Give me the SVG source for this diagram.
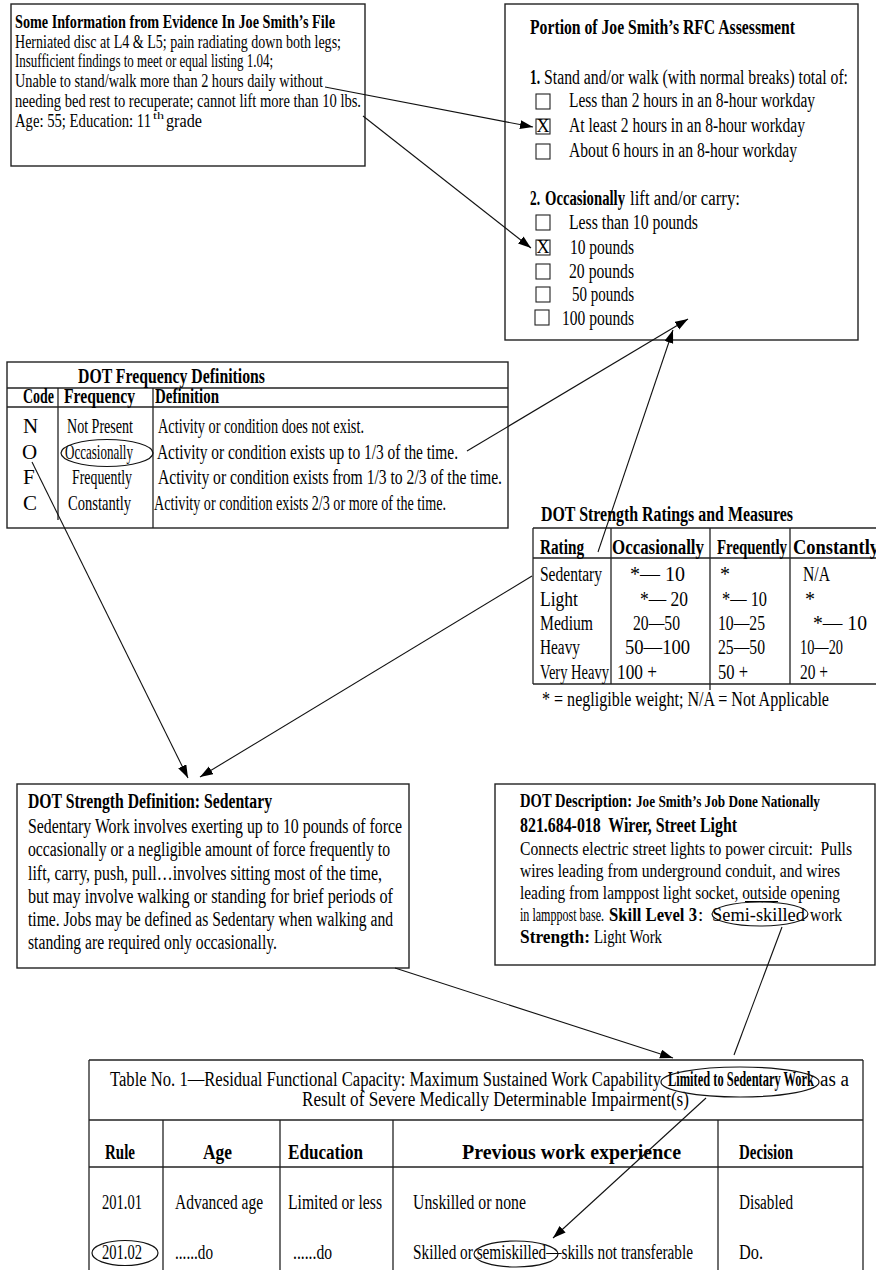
<svg xmlns="http://www.w3.org/2000/svg" width="876" height="1270" viewBox="0 0 876 1270">
<style>
text{font-family:"Liberation Serif","Times New Roman",serif;fill:#000}
.b{font-weight:bold}
.pre{white-space:pre}
.f18{font-size:18.5px}.f19{font-size:19px}.f20{font-size:20px}.f21{font-size:21px}
.box{fill:#fff;stroke:#222;stroke-width:1.4}
.ln{stroke:#222;stroke-width:1.3;fill:none}
.cb{fill:#fff;stroke:#222;stroke-width:1.1}
.ov{fill:none;stroke:#111;stroke-width:1.2}
.con{stroke:#111;stroke-width:1.1;fill:none}
.arr{marker-end:url(#ah)}
</style>
<defs>
<marker id="ah" markerUnits="userSpaceOnUse" markerWidth="14" markerHeight="10" refX="13" refY="4.5" orient="auto">
<path d="M0,0 L13,4.5 L0,9 z" fill="#000"/>
</marker>
</defs>
<rect width="876" height="1270" fill="#fff"/>

<g id="n-evidence">
<rect class="box" x="11" y="4" width="354" height="162"/>
<text class="f18 b" x="15" y="28" textLength="320" lengthAdjust="spacingAndGlyphs">Some Information from Evidence In Joe Smith’s File</text>
<text class="f18" x="15" y="48" textLength="326" lengthAdjust="spacingAndGlyphs">Herniated disc at L4 &amp; L5; pain radiating down both legs;</text>
<text class="f18" x="15" y="67" textLength="258" lengthAdjust="spacingAndGlyphs">Insufficient findings to meet or equal listing 1.04;</text>
<text class="f18" x="15" y="87" textLength="308" lengthAdjust="spacingAndGlyphs">Unable to stand/walk more than 2 hours daily without</text>
<text class="f18" x="15" y="107" textLength="346" lengthAdjust="spacingAndGlyphs">needing bed rest to recuperate; cannot lift more than 10 lbs.</text>
<text class="f18" x="15" y="127" textLength="136" lengthAdjust="spacingAndGlyphs">Age: 55; Education: 11</text>
<text x="153" y="119" style="font-size:10.5px" textLength="11" lengthAdjust="spacingAndGlyphs">th</text>
<text class="f18" x="166" y="127" textLength="36" lengthAdjust="spacingAndGlyphs">grade</text>
</g>

<g id="n-rfc">
<rect class="box" x="505" y="4" width="353" height="336"/>
<text class="f20 b" x="530" y="34" textLength="265" lengthAdjust="spacingAndGlyphs">Portion of Joe Smith’s RFC Assessment</text>
<text class="f20 b" x="530" y="84" textLength="10" lengthAdjust="spacingAndGlyphs">1.</text>
<text class="f20" x="544" y="84" textLength="304" lengthAdjust="spacingAndGlyphs">Stand and/or walk (with normal breaks) total of:</text>
<rect class="cb" x="536" y="94" width="14" height="15"/>
<rect class="cb" x="536" y="119" width="14" height="15"/>
<rect class="cb" x="536" y="144" width="14" height="15"/>
<text x="543" y="132" text-anchor="middle" style="font-size:18px">X</text>
<text class="f20" x="569" y="107" textLength="246" lengthAdjust="spacingAndGlyphs">Less than 2 hours in an 8-hour workday</text>
<text class="f20" x="569" y="132" textLength="236" lengthAdjust="spacingAndGlyphs">At least 2 hours in an 8-hour workday</text>
<text class="f20" x="569" y="157" textLength="228" lengthAdjust="spacingAndGlyphs">About 6 hours in an 8-hour workday</text>
<text class="f20 b" x="530" y="205" textLength="10" lengthAdjust="spacingAndGlyphs">2.</text>
<text class="f20 b" x="545" y="205" textLength="80" lengthAdjust="spacingAndGlyphs">Occasionally</text>
<text class="f20" x="630" y="205" textLength="110" lengthAdjust="spacingAndGlyphs">lift and/or carry:</text>
<rect class="cb" x="536" y="215" width="14" height="15"/>
<rect class="cb" x="536" y="240" width="14" height="15"/>
<rect class="cb" x="536" y="264" width="14" height="15"/>
<rect class="cb" x="536" y="287" width="14" height="15"/>
<rect class="cb" x="535" y="310" width="14" height="15"/>
<text x="543" y="253" text-anchor="middle" style="font-size:18px">X</text>
<text class="f20" x="569" y="229" textLength="129" lengthAdjust="spacingAndGlyphs">Less than 10 pounds</text>
<text class="f20" x="570" y="254" textLength="64" lengthAdjust="spacingAndGlyphs">10 pounds</text>
<text class="f20" x="569" y="278" textLength="65" lengthAdjust="spacingAndGlyphs">20 pounds</text>
<text class="f20" x="572" y="301" textLength="62" lengthAdjust="spacingAndGlyphs">50 pounds</text>
<text class="f20" x="562" y="325" textLength="72" lengthAdjust="spacingAndGlyphs">100 pounds</text>
</g>

<g id="n-freq">
<rect class="box" x="7" y="362" width="501" height="166"/>
<line class="ln" x1="7" y1="388" x2="508" y2="388"/>
<line class="ln" x1="7" y1="407" x2="508" y2="407"/>
<line class="ln" x1="58" y1="388" x2="58" y2="520"/>
<line class="ln" x1="153" y1="388" x2="153" y2="528"/>
<text class="f21 b" x="78" y="383" textLength="187" lengthAdjust="spacingAndGlyphs">DOT Frequency Definitions</text>
<text class="f21 b" x="23" y="403" textLength="31" lengthAdjust="spacingAndGlyphs">Code</text>
<text class="f21 b" x="64" y="403" textLength="71" lengthAdjust="spacingAndGlyphs">Frequency</text>
<text class="f21 b" x="155" y="403" textLength="64" lengthAdjust="spacingAndGlyphs">Definition</text>
<text class="f21" x="23" y="433">N</text>
<text class="f21" x="67" y="433" textLength="66" lengthAdjust="spacingAndGlyphs">Not Present</text>
<text class="f21" x="158" y="433" textLength="206" lengthAdjust="spacingAndGlyphs">Activity or condition does not exist.</text>
<text class="f21" x="22" y="459">O</text>
<text class="f21" x="65" y="459" textLength="68" lengthAdjust="spacingAndGlyphs">Occasionally</text>
<text class="f21" x="157" y="459" textLength="301" lengthAdjust="spacingAndGlyphs">Activity or condition exists up to 1/3 of the time.</text>
<text class="f21" x="23" y="484">F</text>
<text class="f21" x="72" y="484" textLength="60" lengthAdjust="spacingAndGlyphs">Frequently</text>
<text class="f21" x="158" y="484" textLength="344" lengthAdjust="spacingAndGlyphs">Activity or condition exists from 1/3 to 2/3 of the time.</text>
<text class="f21" x="23" y="510">C</text>
<text class="f21" x="68" y="510" textLength="63" lengthAdjust="spacingAndGlyphs">Constantly</text>
<text class="f21" x="154" y="510" textLength="292" lengthAdjust="spacingAndGlyphs">Activity or condition exists 2/3 or more of the time.</text>
<ellipse class="ov" cx="107" cy="453" rx="46" ry="13.5"/>
</g>

<g id="n-strength-table">
<text class="f20 b" x="541" y="521" textLength="252" lengthAdjust="spacingAndGlyphs">DOT Strength Ratings and Measures</text>
<line class="ln" x1="533" y1="528" x2="876" y2="528"/>
<line class="ln" x1="533" y1="558" x2="876" y2="558"/>
<line class="ln" x1="533" y1="684" x2="876" y2="684"/>
<line class="ln" x1="533" y1="528" x2="533" y2="684"/>
<line class="ln" x1="611" y1="528" x2="611" y2="684"/>
<line class="ln" x1="710" y1="528" x2="710" y2="690"/>
<line class="ln" x1="790" y1="528" x2="790" y2="684"/>
<text class="f20 b" x="540" y="554" textLength="44" lengthAdjust="spacingAndGlyphs">Rating</text>
<text class="f20 b" x="612" y="554" textLength="92" lengthAdjust="spacingAndGlyphs">Occasionally</text>
<text class="f20 b" x="717" y="554" textLength="70" lengthAdjust="spacingAndGlyphs">Frequently</text>
<text class="f20 b" x="793" y="554" textLength="86" lengthAdjust="spacingAndGlyphs">Constantly</text>
<text class="f20" x="540" y="581" textLength="62" lengthAdjust="spacingAndGlyphs">Sedentary</text>
<text class="f20" x="630" y="581" textLength="55" lengthAdjust="spacingAndGlyphs">*— 10</text>
<text class="f20" x="720" y="581">*</text>
<text class="f20" x="803" y="581" textLength="27" lengthAdjust="spacingAndGlyphs">N/A</text>
<text class="f20" x="540" y="606" textLength="38" lengthAdjust="spacingAndGlyphs">Light</text>
<text class="f20" x="640" y="606" textLength="48" lengthAdjust="spacingAndGlyphs">*— 20</text>
<text class="f20" x="722" y="606" textLength="45" lengthAdjust="spacingAndGlyphs">*— 10</text>
<text class="f20" x="805" y="606">*</text>
<text class="f20" x="540" y="630" textLength="53" lengthAdjust="spacingAndGlyphs">Medium</text>
<text class="f20" x="633" y="630" textLength="47" lengthAdjust="spacingAndGlyphs">20—50</text>
<text class="f20" x="718" y="630" textLength="47" lengthAdjust="spacingAndGlyphs">10—25</text>
<text class="f20" x="813" y="630" textLength="54" lengthAdjust="spacingAndGlyphs">*— 10</text>
<text class="f20" x="540" y="654" textLength="40" lengthAdjust="spacingAndGlyphs">Heavy</text>
<text class="f20" x="625" y="654" textLength="65" lengthAdjust="spacingAndGlyphs">50—100</text>
<text class="f20" x="718" y="654" textLength="47" lengthAdjust="spacingAndGlyphs">25—50</text>
<text class="f20" x="800" y="654" textLength="43" lengthAdjust="spacingAndGlyphs">10—20</text>
<text class="f20" x="540" y="679" textLength="69" lengthAdjust="spacingAndGlyphs">Very Heavy</text>
<text class="f20" x="617" y="679" textLength="40" lengthAdjust="spacingAndGlyphs">100 +</text>
<text class="f20" x="718" y="679" textLength="30" lengthAdjust="spacingAndGlyphs">50 +</text>
<text class="f20" x="800" y="679" textLength="28" lengthAdjust="spacingAndGlyphs">20 +</text>
<text class="f20" x="542" y="706" textLength="287" lengthAdjust="spacingAndGlyphs">* = negligible weight; N/A = Not Applicable</text>
</g>

<g id="n-strength-def">
<rect class="box" x="17" y="784" width="392" height="184"/>
<text class="f20 b" x="28" y="808" textLength="244" lengthAdjust="spacingAndGlyphs">DOT Strength Definition: Sedentary</text>
<text class="f20" x="28" y="833" textLength="374" lengthAdjust="spacingAndGlyphs">Sedentary Work involves exerting up to 10 pounds of force</text>
<text class="f20" x="28" y="856" textLength="362" lengthAdjust="spacingAndGlyphs">occasionally or a negligible amount of force frequently to</text>
<text class="f20" x="28" y="880" textLength="354" lengthAdjust="spacingAndGlyphs">lift, carry, push, pull…involves sitting most of the time,</text>
<text class="f20" x="28" y="903" textLength="365" lengthAdjust="spacingAndGlyphs">but may involve walking or standing for brief periods of</text>
<text class="f20" x="28" y="926" textLength="365" lengthAdjust="spacingAndGlyphs">time. Jobs may be defined as Sedentary when walking and</text>
<text class="f20" x="28" y="949" textLength="249" lengthAdjust="spacingAndGlyphs">standing are required only occasionally.</text>
</g>

<g id="n-dot-desc">
<rect class="box" x="495" y="784" width="380" height="181"/>
<text class="b" style="font-size:18px" x="520" y="807" textLength="112" lengthAdjust="spacingAndGlyphs">DOT Description:</text>
<text class="b" style="font-size:17px" x="636" y="807" textLength="184" lengthAdjust="spacingAndGlyphs">Joe Smith’s Job Done Nationally</text>
<text class="f20 b pre" x="520" y="832" textLength="217" lengthAdjust="spacingAndGlyphs">821.684-018  Wirer, Street Light</text>
<text class="f19 pre" x="520" y="855" textLength="332" lengthAdjust="spacingAndGlyphs">Connects electric street lights to power circuit:  Pulls</text>
<text class="f19" x="520" y="877" textLength="320" lengthAdjust="spacingAndGlyphs">wires leading from underground conduit, and wires</text>
<text class="f19" x="520" y="899" textLength="320" lengthAdjust="spacingAndGlyphs">leading from lamppost light socket, outside opening</text>
<line x1="745" y1="901.5" x2="778" y2="901.5" stroke="#000" stroke-width="1"/>
<text class="f19" x="520" y="921" textLength="84" lengthAdjust="spacingAndGlyphs">in lamppost base.</text>
<text class="f19 b" x="609" y="921" textLength="88" lengthAdjust="spacingAndGlyphs">Skill Level 3</text>
<text class="f19" x="698" y="921">:</text>
<text class="f19" x="712" y="921" textLength="93" lengthAdjust="spacingAndGlyphs">Semi-skilled</text>
<text class="f19" x="810" y="921" textLength="32" lengthAdjust="spacingAndGlyphs">work</text>
<ellipse class="ov" cx="760" cy="914" rx="48" ry="12"/>
<text class="f19 b" x="520" y="943" textLength="70" lengthAdjust="spacingAndGlyphs">Strength:</text>
<text class="f19" x="594" y="943" textLength="68" lengthAdjust="spacingAndGlyphs">Light Work</text>
</g>

<g id="n-table1">
<line class="ln" x1="89" y1="1060" x2="863" y2="1060"/>
<line class="ln" x1="89" y1="1060" x2="89" y2="1270"/>
<line class="ln" x1="863" y1="1060" x2="863" y2="1270"/>
<line class="ln" x1="89" y1="1120" x2="863" y2="1120"/>
<line class="ln" x1="89" y1="1167" x2="863" y2="1167"/>
<line class="ln" x1="163" y1="1120" x2="163" y2="1270"/>
<line class="ln" x1="280" y1="1120" x2="280" y2="1270"/>
<line class="ln" x1="393" y1="1120" x2="393" y2="1270"/>
<line class="ln" x1="718" y1="1120" x2="718" y2="1270"/>
<text class="f20" x="110" y="1086" textLength="551" lengthAdjust="spacingAndGlyphs">Table No. 1—Residual Functional Capacity: Maximum Sustained Work Capability</text>
<text class="f20 b" x="668" y="1086" textLength="146" lengthAdjust="spacingAndGlyphs">Limited to Sedentary Work</text>
<text class="f20" x="820" y="1086" textLength="29" lengthAdjust="spacingAndGlyphs">as a</text>
<text class="f20" x="302" y="1106" textLength="387" lengthAdjust="spacingAndGlyphs">Result of Severe Medically Determinable Impairment(s)</text>
<ellipse class="ov" cx="740" cy="1082" rx="79" ry="15"/>
<text class="f20 b" x="105" y="1159" textLength="30" lengthAdjust="spacingAndGlyphs">Rule</text>
<text class="f20 b" x="203" y="1159" textLength="29" lengthAdjust="spacingAndGlyphs">Age</text>
<text class="f20 b" x="288" y="1159" textLength="75" lengthAdjust="spacingAndGlyphs">Education</text>
<text class="f20 b" x="462" y="1159" textLength="219" lengthAdjust="spacingAndGlyphs">Previous work experience</text>
<text class="f20 b" x="739" y="1159" textLength="54" lengthAdjust="spacingAndGlyphs">Decision</text>
<text class="f20" x="102" y="1209" textLength="40" lengthAdjust="spacingAndGlyphs">201.01</text>
<text class="f20" x="175" y="1209" textLength="88" lengthAdjust="spacingAndGlyphs">Advanced age</text>
<text class="f20" x="288" y="1209" textLength="94" lengthAdjust="spacingAndGlyphs">Limited or less</text>
<text class="f20" x="413" y="1209" textLength="113" lengthAdjust="spacingAndGlyphs">Unskilled or none</text>
<text class="f20" x="739" y="1209" textLength="54" lengthAdjust="spacingAndGlyphs">Disabled</text>
<text class="f20" x="102" y="1259" textLength="40" lengthAdjust="spacingAndGlyphs">201.02</text>
<ellipse class="ov" cx="125" cy="1253" rx="33" ry="12.5"/>
<text class="f20" x="175" y="1259" textLength="38" lengthAdjust="spacingAndGlyphs">......do</text>
<text class="f20" x="293" y="1259" textLength="39" lengthAdjust="spacingAndGlyphs">......do</text>
<text class="f20" x="413" y="1259" textLength="280" lengthAdjust="spacingAndGlyphs">Skilled or semiskilled—skills not transferable</text>
<ellipse class="ov" cx="516" cy="1254" rx="42" ry="13"/>
<text class="f20" x="739" y="1259" textLength="24" lengthAdjust="spacingAndGlyphs">Do.</text>
</g>

<g id="connectors">
<line class="con arr" x1="325" y1="87" x2="533" y2="127"/>
<line class="con arr" x1="363" y1="116" x2="531" y2="248"/>
<line class="con arr" x1="467" y1="451" x2="688" y2="319"/>
<line class="con arr" x1="598" y1="552" x2="673" y2="330"/>
<line class="con arr" x1="32" y1="462" x2="188" y2="778"/>
<line class="con arr" x1="532" y1="576" x2="200" y2="777"/>
<line class="con arr" x1="395" y1="968" x2="673" y2="1058"/>
<line class="con" x1="782" y1="927" x2="734" y2="1055"/>
<line class="con arr" x1="706" y1="1098" x2="553" y2="1238"/>
</g>
</svg>
